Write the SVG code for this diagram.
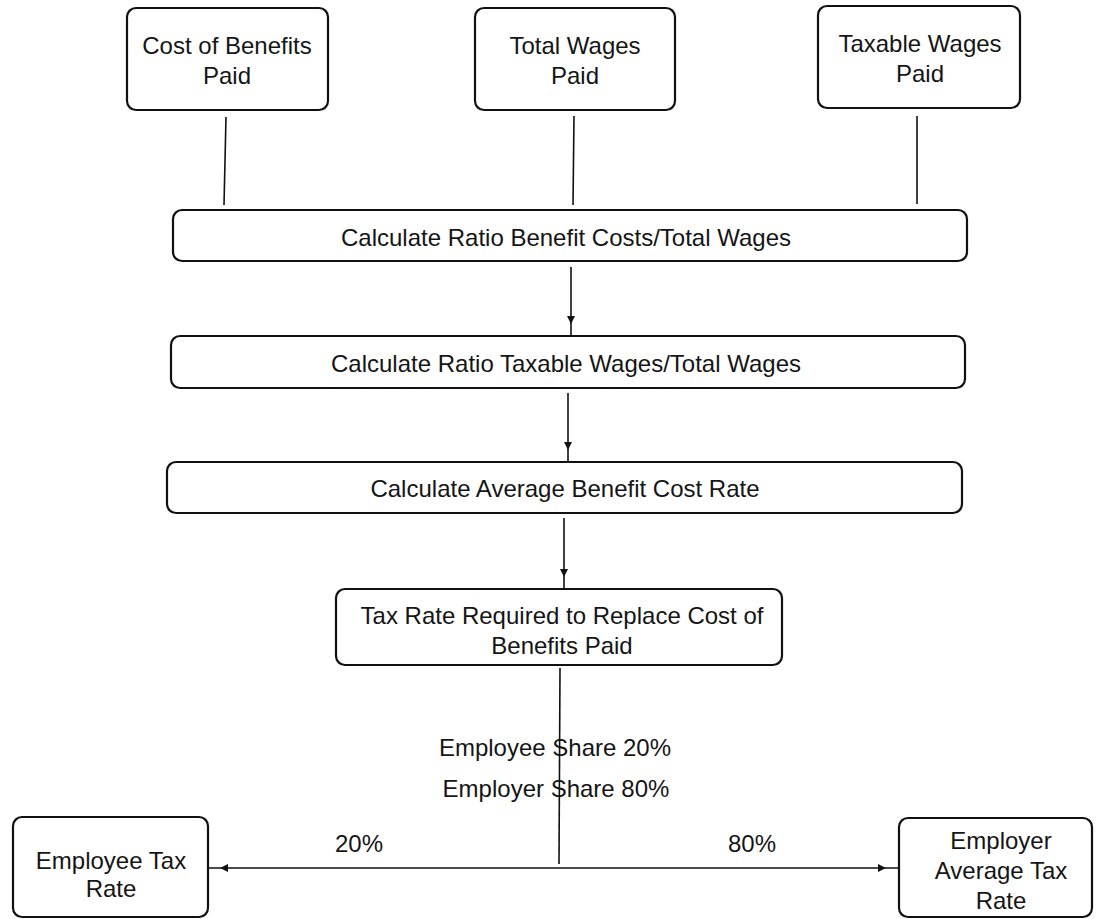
<svg xmlns="http://www.w3.org/2000/svg" width="1096" height="919" viewBox="0 0 1096 919">
<style>
.box{fill:#fff;stroke:#111;stroke-width:2.2}
.t{font-family:"Liberation Sans",Arial,sans-serif;font-size:24px;fill:#151515;text-anchor:middle}
.c{fill:none;stroke:#111;stroke-width:1.6}
</style>
<defs>
<marker id="ah" markerUnits="userSpaceOnUse" markerWidth="24" markerHeight="10" refX="20" refY="4" orient="auto">
<path d="M0,0 L8,4 L0,8 z" fill="#111"/>
</marker>
</defs>
<rect width="1096" height="919" fill="#fff"/>
<g id="connectors">
<line class="c" x1="226" y1="117" x2="224" y2="205"/>
<line class="c" x1="574" y1="116" x2="573" y2="205"/>
<line class="c" x1="917" y1="116" x2="917" y2="204"/>
<line class="c" x1="571" y1="267" x2="571" y2="336" marker-end="url(#ah)"/>
<line class="c" x1="568" y1="393" x2="568" y2="462" marker-end="url(#ah)"/>
<line class="c" x1="564" y1="518" x2="564" y2="589" marker-end="url(#ah)"/>
<line class="c" x1="560" y1="668" x2="559" y2="864"/>
<line class="c" x1="559" y1="868" x2="208" y2="868" marker-end="url(#ah)"/>
<line class="c" x1="559" y1="868" x2="898" y2="868" marker-end="url(#ah)"/>
<text class="t" x="555" y="755.5">Employee Share 20%</text>
<text class="t" x="556" y="796.5">Employer Share 80%</text>
<text class="t" x="359" y="851.5">20%</text>
<text class="t" x="752" y="851.5">80%</text>
</g>
<g id="cost-benefits">
<rect class="box" x="127" y="8" width="201" height="102" rx="9"/>
<text class="t" x="227" y="53.5">Cost of Benefits</text>
<text class="t" x="227" y="83.5">Paid</text>
</g>
<g id="total-wages">
<rect class="box" x="475" y="8" width="200" height="102" rx="9"/>
<text class="t" x="575" y="53.5">Total Wages</text>
<text class="t" x="575" y="83.5">Paid</text>
</g>
<g id="taxable-wages">
<rect class="box" x="818" y="6" width="202" height="102" rx="9"/>
<text class="t" x="920" y="52">Taxable Wages</text>
<text class="t" x="920" y="82">Paid</text>
</g>
<g id="ratio-benefit">
<rect class="box" x="173" y="210" width="794" height="51" rx="9"/>
<text class="t" x="566" y="245.5">Calculate Ratio Benefit Costs/Total Wages</text>
</g>
<g id="ratio-taxable">
<rect class="box" x="171" y="336" width="794" height="52" rx="9"/>
<text class="t" x="566" y="371.5">Calculate Ratio Taxable Wages/Total Wages</text>
</g>
<g id="avg-cost">
<rect class="box" x="167" y="462" width="795" height="51" rx="9"/>
<text class="t" x="565" y="496.5">Calculate Average Benefit Cost Rate</text>
</g>
<g id="tax-rate">
<rect class="box" x="336" y="589" width="446" height="76" rx="9"/>
<text class="t" x="562" y="623.5">Tax Rate Required to Replace Cost of</text>
<text class="t" x="562" y="653.5">Benefits Paid</text>
</g>
<g id="employee-rate">
<rect class="box" x="13" y="817" width="195" height="100" rx="9"/>
<text class="t" x="111" y="868.5">Employee Tax</text>
<text class="t" x="111" y="896.5">Rate</text>
</g>
<g id="employer-rate">
<rect class="box" x="899" y="818" width="193" height="99" rx="9"/>
<text class="t" x="1001" y="848.5">Employer</text>
<text class="t" x="1001" y="878.5">Average Tax</text>
<text class="t" x="1001" y="908.5">Rate</text>
</g>
</svg>
